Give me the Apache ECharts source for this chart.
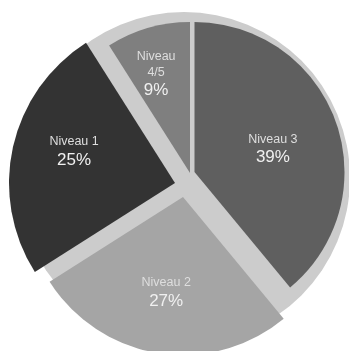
<!DOCTYPE html>
<html><head><meta charset="utf-8">
<script src="https://cdn.jsdelivr.net/npm/echarts@6/dist/echarts.min.js"></script>
<style>html,body{margin:0;padding:0;background:#fff}#c{width:349px;height:351px}</style>
</head><body><div id="c"></div>
<script>
const categories = ['Niveau 3', 'Niveau 2', 'Niveau 1', 'Niveau 4/5'];
const values = [39, 27, 25, 9];

const colors = ['#5f5f5f', '#a5a5a5', '#333333', '#7f7f7f'];
const centers = [[194.5, 172], [183, 197], [175, 183], [190, 173]];
const radii = [150, 158, 166, 151];
const labelOffsets = [[5, 4], [-4, 15], [-17, -12], [-12, -23]];

const chart = echarts.init(document.getElementById('c'), null, {renderer: 'canvas'});

const series = [{
  type: 'pie', silent: true, center: [184, 178], radius: [0, 166], z: 1,
  label: {show: false}, labelLine: {show: false},
  data: [{value: 1, itemStyle: {color: '#cccccc'}}],
  emphasis: {disabled: true}
}];

categories.forEach(function (cat, i) {
  series.push({
    type: 'pie', silent: true, z: 2 + i,
    center: centers[i], radius: [0, radii[i]],
    startAngle: 90, clockwise: true,
    avoidLabelOverlap: false,
    emphasis: {disabled: true},
    labelLine: {show: false},
    data: categories.map(function (c, j) {
      return {
        name: c, value: values[j],
        itemStyle: {color: j === i ? colors[j] : 'rgba(0,0,0,0)'},
        label: {show: j === i}
      };
    }),
    label: {
      position: 'inside',
      offset: labelOffsets[i],
      fontFamily: 'Liberation Sans, Arial, sans-serif',
      align: 'center',
      formatter: function (p) {
        const n = p.name.length > 8 ? p.name.replace(' ', '\n') : p.name;
        return '{n|' + n + '}\n{p|' + Math.round(p.percent) + '%}';
      },
      rich: {
        n: {fontSize: 12.5, lineHeight: 16, color: '#dedede', fontFamily: 'Liberation Sans, Arial, sans-serif', align: 'center'},
        p: {fontSize: 17, lineHeight: 21, color: '#f0f0f0', fontFamily: 'Liberation Sans, Arial, sans-serif', align: 'center'}
      }
    }
  });
});

chart.setOption({animation: false, backgroundColor: '#ffffff', series: series});
</script></body></html>
